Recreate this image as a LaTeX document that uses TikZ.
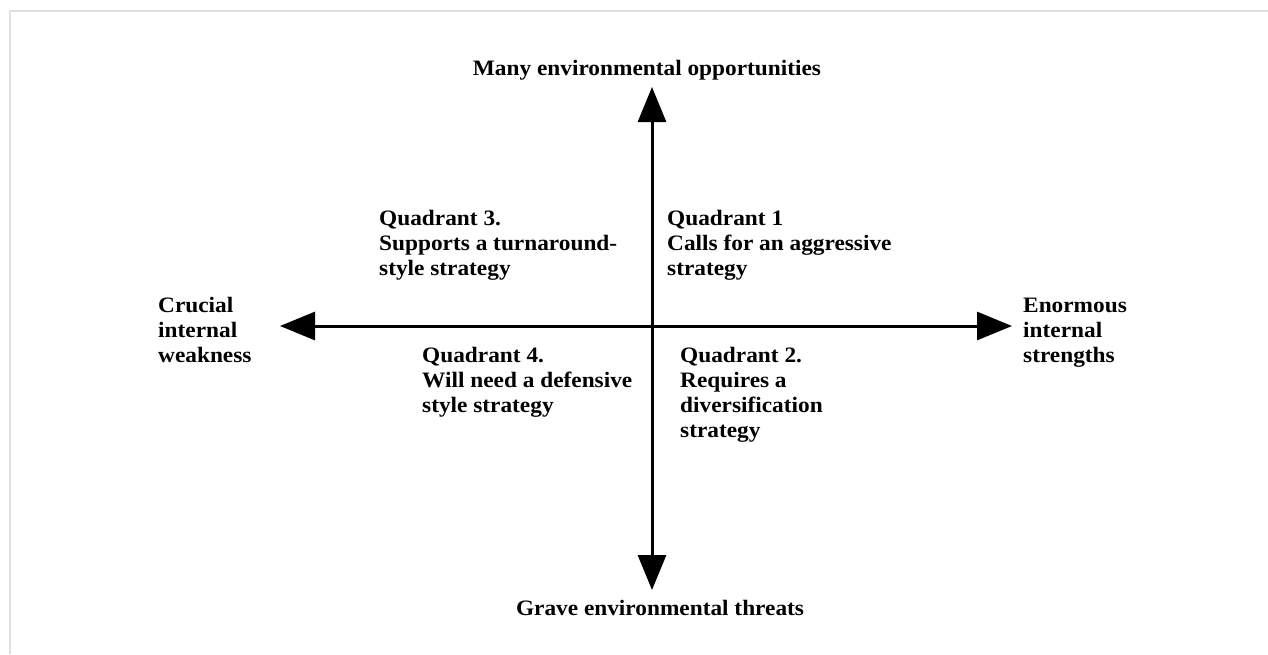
\documentclass[tikz,border=0pt]{standalone}
\usepackage{fontspec}
\setmainfont[FakeStretch=1.06]{Liberation Serif}
\usetikzlibrary{arrows.meta}
\begin{document}
\begin{tikzpicture}[x=1pt,y=-1pt,
  % multi-line labels are placed by the baseline of their last line
  lbl/.style={inner sep=0pt, align=left, anchor=base west,
    font=\fontsize{22}{25}\selectfont\bfseries},
  ttl/.style={inner sep=0pt, anchor=base,
    font=\fontsize{22}{25}\selectfont\bfseries},
  axis/.style={line width=3pt, {Triangle[width=28pt,length=35pt]}-{Triangle[width=28pt,length=35pt]}},
  frameline/.style={draw=black!12, line width=1.5pt}]
  \useasboundingbox (0,0) rectangle (1268,654);
  % frame edges along top and left
  \coordinate (fa) at (10,11);
  \coordinate (fb) at (1268,11);
  \coordinate (fc) at (10,654);
  \draw[frameline] (fb) -- (fa) -- (fc);

  % axis ends
  \coordinate (up) at (652,87);
  \coordinate (down) at (652,590);
  \coordinate (west) at (280,326);
  \coordinate (east) at (1012,326);
  \draw[axis] (down) -- (up);
  \draw[axis] (west) -- (east);

  % axis titles
  \node[ttl] (opp) at (647,75) {Many environmental opportunities};
  \node[ttl] (thr) at (660,615) {Grave environmental threats};
  \node[lbl] (weak) at (158,362) {Crucial\\internal\\weakness};
  \node[lbl] (str) at (1023,362) {Enormous\\internal\\strengths};

  % quadrant descriptions
  \node[lbl] (q3) at (379,275) {Quadrant 3.\\Supports a turnaround-\\style strategy};
  \node[lbl] (q1) at (667,275) {Quadrant 1\\Calls for an aggressive\\strategy};
  \node[lbl] (q4) at (422,412) {Quadrant 4.\\Will need a defensive\\style strategy};
  \node[lbl] (q2) at (680,437) {Quadrant 2.\\Requires a\\diversification\\strategy};
\end{tikzpicture}
\end{document}
